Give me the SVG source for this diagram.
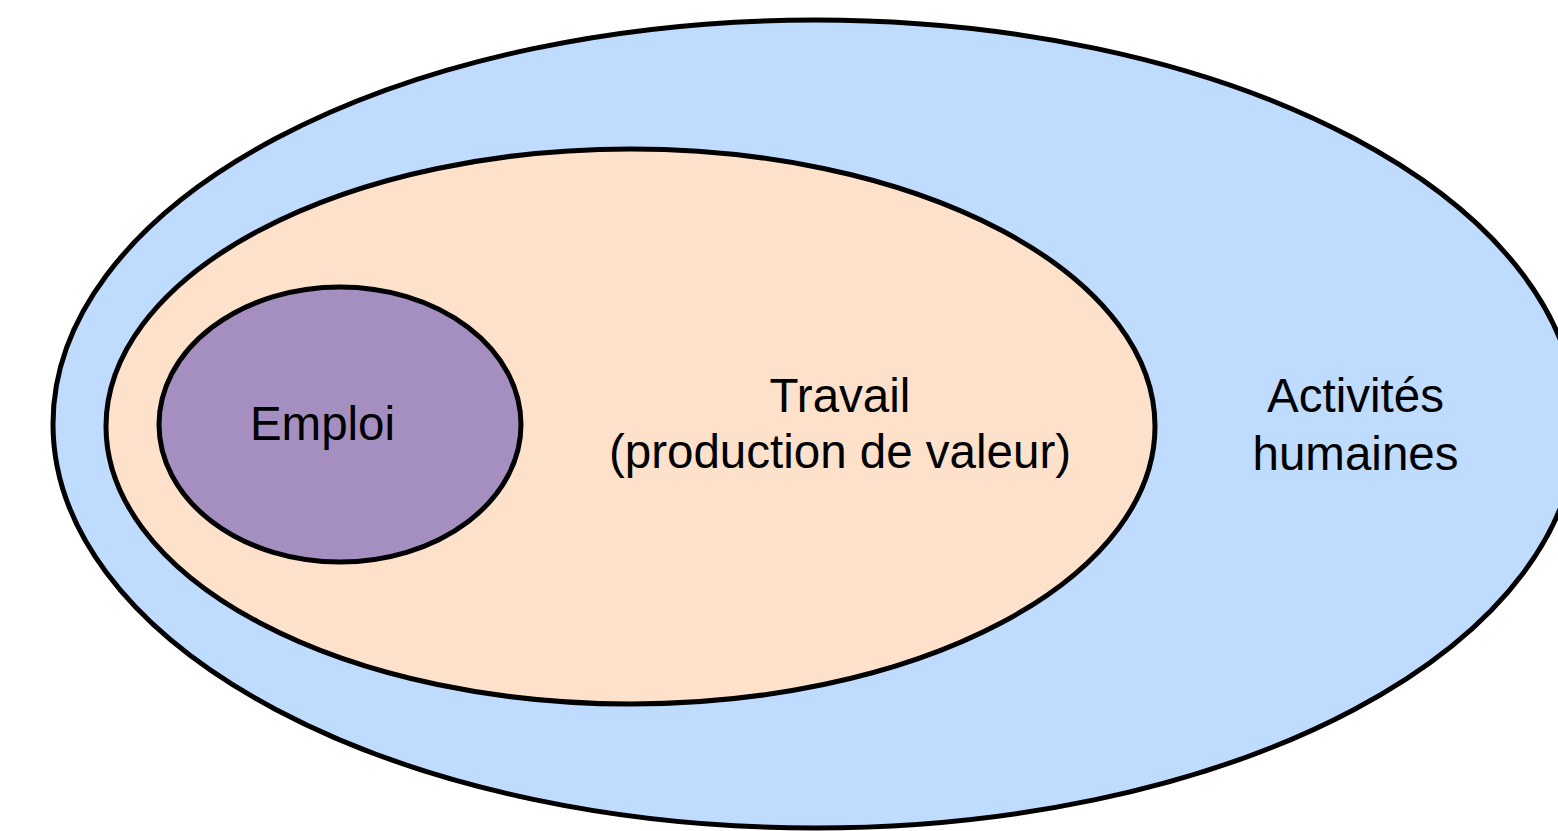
<svg xmlns="http://www.w3.org/2000/svg" width="1558" height="831" viewBox="0 0 1558 831">
<style>
.e{stroke:#000;stroke-width:5}
.t{font-family:"Liberation Sans",Arial,sans-serif;font-size:47.5px;fill:#000;text-anchor:middle}
</style>
<rect width="1558" height="831" fill="#fff"/>
<g id="activites">
<ellipse class="e" cx="815" cy="424" rx="762" ry="404" fill="#BFDBFE"/>
<text class="t" x="1355.5" y="412">Activités</text>
<text class="t" x="1355.5" y="470">humaines</text>
</g>
<g id="travail">
<ellipse class="e" cx="630.5" cy="426.5" rx="524.5" ry="277.5" fill="#FEE1CB"/>
<text class="t" x="840" y="412">Travail</text>
<text class="t" x="840" y="468">(production de valeur)</text>
</g>
<g id="emploi">
<ellipse class="e" cx="340" cy="424.5" rx="181" ry="137.5" fill="#A48FC0"/>
<text class="t" x="322.5" y="440">Emploi</text>
</g>
<g id="connectors"/>
</svg>
